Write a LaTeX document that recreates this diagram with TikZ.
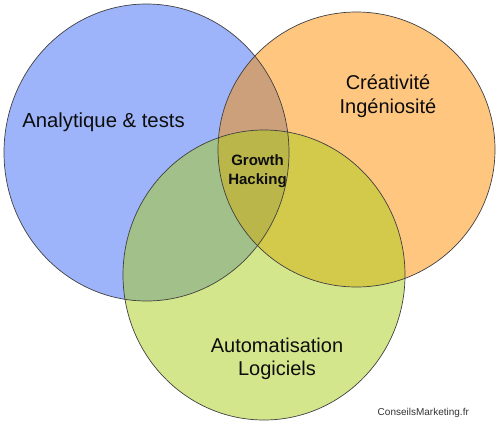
\documentclass[tikz,border=0pt]{standalone}
\usepackage{fontspec}
\setmainfont{Liberation Sans}
\definecolor{setblue}{RGB}{59,105,245}
\definecolor{setorange}{RGB}{255,141,0}
\definecolor{setgreen}{RGB}{169,205,25}

\begin{document}
\begin{tikzpicture}[
    x=1pt, y=-1pt,
    every node/.style={align=center, inner sep=0pt, anchor=base, text=black!95},
    setfill/.style={fill=#1, fill opacity=0.5},
    setline/.style={draw=black!75, line width=0.7pt},
    settext/.style={font=\fontsize{20}{24}\selectfont}
]
\useasboundingbox (0,0) rectangle (500,426);
\coordinate (cblue) at (146.5,152.5);
\coordinate (corange) at (356.5,149.5);
\coordinate (cgreen) at (264,275);

\fill[setfill=setblue] (cblue) ellipse [x radius=142.5, y radius=148.5];
\fill[setfill=setorange] (corange) ellipse [x radius=138.5, y radius=137.5];
\fill[setfill=setgreen] (cgreen) ellipse [x radius=141, y radius=145];
\draw[setline] (cblue) ellipse [x radius=142.5, y radius=148.5];
\draw[setline] (corange) ellipse [x radius=138.5, y radius=137.5];
\draw[setline] (cgreen) ellipse [x radius=141, y radius=145];

\node[settext, font=\fontsize{20.3}{24}\selectfont] (analytics) at (103.5,127.7) {Analytique \& tests};
\node[settext] (creativity) at (388,113) {Créativité\\Ingéniosité};
\node[settext, font=\fontsize{20}{23}\selectfont] (automation) at (277,375) {Automatisation\\Logiciels};
\node[font=\fontsize{15}{18.4}\selectfont\bfseries] (growth) at (257.5,184) {Growth\\Hacking};
\node[font=\fontsize{10}{12}\selectfont, text=black!80, anchor=center] (source) at (423.3,412.7) {ConseilsMarketing.fr};
\end{tikzpicture}
\end{document}
